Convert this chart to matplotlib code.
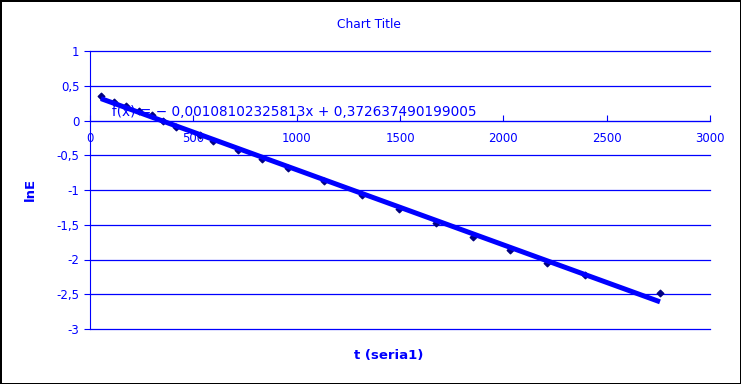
import numpy as np
import matplotlib.pyplot as plt
from matplotlib.ticker import FuncFormatter

# data
t_values = [53, 116, 174, 237, 300, 353, 416, 532, 595, 716, 832, 958,
            1132, 1316, 1495, 1674, 1853, 2032, 2211, 2395, 2758]
lnE_values = [0.35, 0.27, 0.21, 0.14, 0.08, -0.01, -0.09, -0.21, -0.30, -0.42,
              -0.55, -0.68, -0.87, -1.07, -1.27, -1.47, -1.68, -1.86, -2.05,
              -2.22, -2.48]
slope = -0.00108102325813
intercept = 0.372637490199005

BLUE = '#0000ff'
NAVY = '#000080'

def comma_fmt(v, pos):
    s = ('%g' % v).replace('.', ',')
    return s

fig = plt.figure(figsize=(7.41, 3.84), dpi=100)
fig.patch.set_edgecolor('black')
fig.patch.set_linewidth(2)
ax = fig.add_axes([90 / 741, 55 / 384, 620 / 741, 278 / 384])

t = np.array(t_values)
y = np.array(lnE_values)

# trend line
tx = np.array([t.min(), t.max()])
ax.plot(tx, slope * tx + intercept, color=BLUE, lw=3.6, zorder=3, solid_capstyle='butt')
ax.scatter(t, y, marker='D', s=11, color=NAVY, zorder=2)

ax.set_xlim(0, 3000)
ax.set_ylim(-3, 1)
ax.set_xticks(np.arange(0, 3001, 500))
ax.set_yticks(np.arange(-3, 1.01, 0.5))
ax.xaxis.set_major_formatter(FuncFormatter(comma_fmt))
ax.yaxis.set_major_formatter(FuncFormatter(comma_fmt))

ax.grid(axis='y', color=BLUE, lw=0.9)
for gl in ax.get_ygridlines():
    gl.set_clip_on(False)
ax.set_axisbelow(True)
for s in ['top', 'right']:
    ax.spines[s].set_visible(False)
ax.spines['bottom'].set_position(('data', 0))
ax.spines['bottom'].set_color(BLUE)
ax.spines['left'].set_color(BLUE)
ax.tick_params(axis='x', direction='in', length=4, colors=BLUE, labelsize=8.5, pad=8)
ax.tick_params(axis='y', direction='out', length=4, colors=BLUE, labelsize=8.5)

ax.text(108, 0.12, 'f(x) = \u2212 0,00108102325813x + 0,372637490199005',
        color=BLUE, fontsize=9.8, va='center')

fig.text(369 / 741, 1 - 24 / 384, 'Chart Title', color=BLUE, fontsize=8.8,
         ha='center', va='center')
fig.text(30 / 741, 1 - 189 / 384, 'lnE', color=BLUE, fontsize=9.5, fontweight='bold',
         rotation=90, ha='center', va='center')
fig.text(389 / 741, 1 - 355 / 384, 't (seria1)', color=BLUE, fontsize=9.5,
         fontweight='bold', ha='center', va='center')

fig.savefig('out.png', dpi=100, edgecolor=fig.get_edgecolor())
